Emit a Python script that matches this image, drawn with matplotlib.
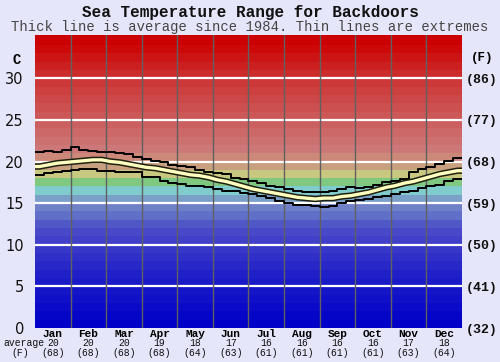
import matplotlib
matplotlib.use("Agg")
import matplotlib.pyplot as plt
import matplotlib.transforms as mtransforms
import numpy as np

months = ["Jan", "Feb", "Mar", "Apr", "May", "Jun", "Jul", "Aug", "Sep", "Oct", "Nov", "Dec"]
avg_c = [20, 20, 20, 19, 18, 17, 16, 16, 16, 16, 17, 18]
avg_f = [68, 68, 68, 68, 64, 63, 61, 61, 61, 61, 63, 64]

# quarter-month sampled series (48 points)
max_t = [21.2, 21.3, 21.1, 21.4, 21.8, 21.4, 21.3, 21.2,
         21.1, 21.0, 20.9, 20.6, 20.3, 20.1, 19.9, 19.6,
         19.5, 19.3, 19.0, 18.8, 18.6, 18.5, 18.0, 17.9,
         17.6, 17.4, 17.1, 16.9, 16.7, 16.5, 16.3, 16.3,
         16.3, 16.5, 16.7, 16.9, 16.8, 16.9, 17.2, 17.5,
         17.7, 17.9, 18.8, 19.1, 19.4, 19.7, 20.1, 20.4]
min_t = [18.4, 18.6, 18.8, 18.9, 19.0, 19.1, 19.1, 18.9,
         18.9, 18.8, 18.8, 18.7, 18.2, 18.1, 17.7, 17.4,
         17.3, 17.1, 17.0, 16.9, 16.7, 16.5, 16.4, 16.2,
         16.1, 15.9, 15.6, 15.3, 15.0, 14.8, 14.8, 14.7,
         14.5, 14.7, 15.0, 15.3, 15.4, 15.5, 15.7, 15.9,
         16.1, 16.3, 16.5, 16.8, 17.0, 17.2, 17.6, 17.9]
avg_t = [19.4, 19.6, 19.8, 19.9, 20.0, 20.1, 20.2, 20.2,
         20.0, 19.9, 19.7, 19.5, 19.3, 19.2, 19.0, 18.8,
         18.6, 18.4, 18.3, 18.1, 17.8, 17.6, 17.3, 17.0,
         16.7, 16.5, 16.3, 16.1, 15.9, 15.7, 15.6, 15.5,
         15.6, 15.6, 15.8, 15.9, 16.1, 16.3, 16.6, 16.9,
         17.1, 17.4, 17.6, 17.9, 18.2, 18.5, 18.7, 18.9]
c_ticks = [0, 5, 10, 15, 20, 25, 30]

band_colors = ["#0000C8", "#0505C8", "#0A0AC8", "#1010C8", "#1515C8",
               "#1A1AC8", "#2020C8", "#2828C8", "#3030C8", "#3838C8",
               "#4040C8", "#4848C8", "#5058C8", "#6070C8", "#7080C8",
               "#7AA0C8", "#80CCCC", "#80C880", "#C8C880", "#C8A080",
               "#CC8878", "#CC7878", "#CC7070", "#CC6868", "#CC6060",
               "#CC5858", "#CC5050", "#CC4848", "#CC4040", "#CC3838",
               "#CC2C2C", "#CC2020", "#CC1414", "#CC0808", "#CC0000",
               "#CC0000"]

bg = "#E6E6FA"
mono = "Liberation Mono"

fig = plt.figure(figsize=(5.0, 3.62), dpi=100, facecolor=bg)
ax = fig.add_axes([35/500, 1-328/362, 427/500, (328-35)/362])
ax.set_xlim(0, 12)
ax.set_ylim(0, 35.2)

for i, col in enumerate(band_colors):
    ax.axhspan(i, i + 1, color=col, lw=0, zorder=0)
for c in c_ticks[1:]:
    ax.axhline(c, color="white", lw=1.6, zorder=1)
for m in range(1, 12):
    ax.axvline(m, color="#606060", lw=1.0, zorder=1)

n = len(max_t)
xs = (np.arange(n) + 0.5) * 12 / n
xs_ext = np.concatenate([[0], xs, [12]])
def ext(v):
    return np.concatenate([[v[0]], v, [v[-1]]])
ax.plot(xs_ext, ext(max_t), drawstyle="steps-mid", color="black", lw=1.4, zorder=3)
ax.plot(xs_ext, ext(min_t), drawstyle="steps-mid", color="black", lw=1.4, zorder=3)
ax.plot(xs_ext, ext(avg_t), color="#202010", lw=4.6, zorder=4, solid_capstyle="butt")
ax.plot(xs_ext, ext(avg_t), color="#FFFFC0", lw=2.4, zorder=5, solid_capstyle="butt")

for s in ax.spines.values():
    s.set_visible(False)

ax.set_yticks(c_ticks)
ax.set_yticklabels([str(c) for c in c_ticks], fontsize=10.5, family="DejaVu Sans", color="#111111")
ax.tick_params(axis="y", length=0, pad=8)
ax2 = ax.twinx()
ax2.set_ylim(ax.get_ylim())
ax2.set_yticks(c_ticks)
ax2.set_yticklabels(["(%d)" % round(32 + c * 9 / 5) for c in c_ticks], fontsize=9.5,
                    family=mono, fontweight="bold", color="#111111")
ax2.tick_params(axis="y", length=0, pad=3)
for s in ax2.spines.values():
    s.set_visible(False)

ax.set_xticks(np.arange(12) + 0.5)
ax.set_xticklabels(months, family=mono, fontweight="bold", fontsize=8)
ax.tick_params(axis="x", length=0, pad=1)

trans = mtransforms.blended_transform_factory(ax.transData, fig.transFigure)
for i in range(12):
    ax.text(i + 0.5, 1 - 343/362, str(avg_c[i]), transform=trans, ha="center", va="center",
            family=mono, fontsize=7, color="#111111")
    ax.text(i + 0.5, 1 - 353/362, "(%d)" % avg_f[i], transform=trans, ha="center", va="center",
            family=mono, fontsize=7, color="#111111")

fig.text(3/500, 1 - 343/362, "average", ha="left", va="center", family=mono, fontsize=7, color="#111111")
fig.text(20/500, 1 - 353/362, "(F)", ha="center", va="center", family=mono, fontsize=7, color="#111111")
fig.text(17/500, 1 - 60/362, "C", ha="center", va="center", family=mono, fontweight="bold", fontsize=10)
fig.text(482/500, 1 - 58/362, "(F)", ha="center", va="center", family=mono, fontweight="bold", fontsize=9)

fig.text(0.5, 1 - 12/362, "Sea Temperature Range for Backdoors", ha="center", va="center",
         family=mono, fontweight="bold", fontsize=11.5, color="#111111")
fig.text(0.5, 1 - 27/362, "Thick line is average since 1984. Thin lines are extremes", ha="center",
         va="center", family=mono, fontsize=10, color="#444444")

fig.savefig("out.png", dpi=100, facecolor=bg)
